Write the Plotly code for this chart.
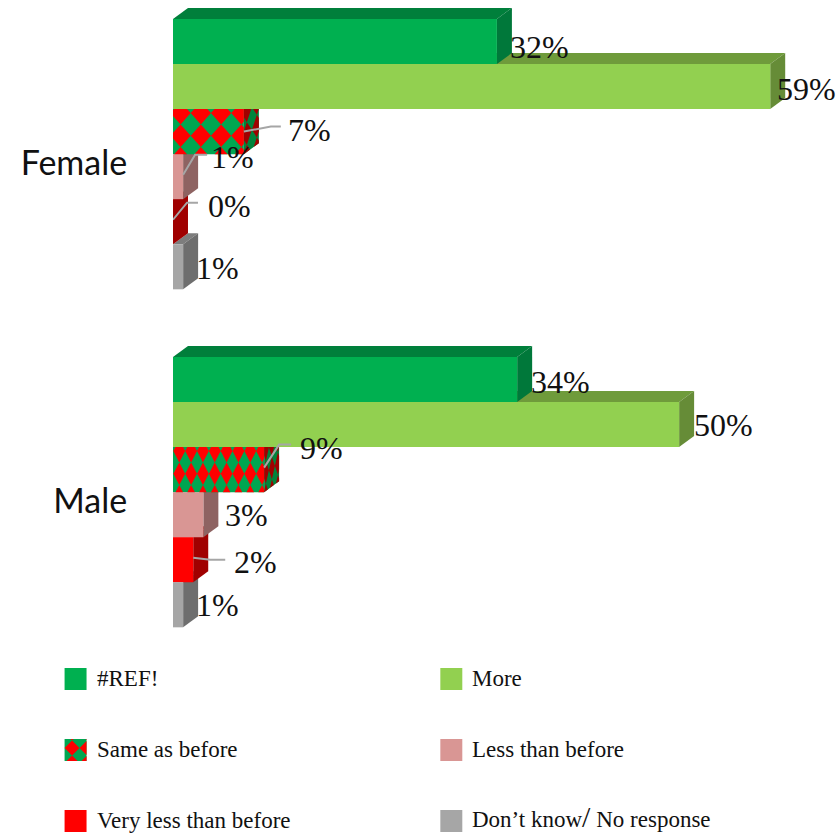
import plotly.graph_objects as go

# ---------- data ----------
categories = ["Female", "Male"]
series_names = ["#REF!", "More", "Same as before", "Less than before",
                "Very less than before", "Don’t know/ No response"]
ref_values = [32, 34]
more_values = [59, 50]
same_values = [7, 9]
less_values = [1, 3]
very_less_values = [0, 2]
no_response_values = [1, 1]
all_values = [ref_values, more_values, same_values, less_values, very_less_values, no_response_values]

# ---------- style ----------
W, H = 837, 833
LEFT, PLOT_H = 172.5, 660
PX_PER_PCT = 10.13
PX_PER_CAT = 338
Y_TOP = -0.456
Y_RANGE = [Y_TOP + PLOT_H / PX_PER_CAT, Y_TOP]
DEPTH_X, DEPTH_Y = 15 / PX_PER_PCT, 11 / PX_PER_CAT
front_colors = ["#00B050", "#92D050", "#00A651", "#D99694", "#FF0000", "#A6A6A6"]
top_colors = ["#007F3B", "#6F9B3B", "#00843C", "#956766", "#A00000", "#7D7D7D"]
side_colors = ["#00783A", "#668C37", "#00843C", "#8E6362", "#A00000", "#6E6E6E"]
RED, DARK_RED = "#FF0000", "#A00000"
pattern_columns = [3.5, 7.7]
pattern_phase = [0.375, 0.53]
side_columns = [1.5, 2.5]
SERIF = "Liberation Serif"
# label offsets (px) from the bar end / bar centre, per group then per series
label_offsets = [
    [(43, 6), (36, 2), (66, -2), (49, -20), (56, -16), (34, 1)],
    [(43, 3), (44, 0), (57, -22), (43, 0), (62, 2), (34, 0)],
]
# leader lines (px) relative to bar end / bar centre
leaders = {
    (0, 2): [(0, 0), (27, -5), (37, -5)],
    (0, 3): [(0, -2), (12, -22), (24, -22)],
    (0, 4): [(0, -2), (14, -19), (25, -19)],
    (1, 2): [(0, -2), (15, -25), (27, -25)],
    (1, 4): [(0, -2), (17, 0), (32, 0)],
}
legend_cols = [64, 440]
legend_rows = [668, 739, 810]


def bar_top(group, series):
    return group - 0.4 + series * 0.8 / 6


BAR_H = 0.8 / 6


def path(points):
    return "M " + " L ".join(f"{x:.4f} {y:.5f}" for x, y in points) + " Z "


def clip(poly):
    for axis, bound, sign in [(0, 0, 1), (0, 1, -1), (1, 0, 1), (1, 1, -1)]:
        out = []
        for i, p in enumerate(poly):
            q = poly[(i + 1) % len(poly)]
            dp, dq = sign * (p[axis] - bound), sign * (q[axis] - bound)
            if dp >= 0:
                out.append(p)
            if dp * dq < 0:
                t = dp / (dp - dq)
                out.append((p[0] + t * (q[0] - p[0]), p[1] + t * (q[1] - p[1])))
        poly = out
        if not poly:
            return []
    return poly


def diamonds(nu, nv, phase_u, phase_v, mapper):
    d = ""
    for j in range(-2, int(nv) + 3):
        for k in range(-2, int(nu) + 3):
            cu, cv = (k + phase_u) / nu, (j + phase_v) / nv
            hu, hv = 0.5 / nu, 0.5 / nv
            poly = clip([(cu, cv - hv), (cu + hu, cv), (cu, cv + hv), (cu - hu, cv)])
            if len(poly) > 2:
                d += path([mapper(u, v) for u, v in poly])
    return d


fig = go.Figure()
for s, name in enumerate(series_names):
    fig.add_trace(go.Bar(
        name=name, y=[0, 1], x=all_values[s], orientation="h",
        marker=dict(color=front_colors[s], line=dict(width=0)),
        showlegend=False, hoverinfo="skip",
    ))

shapes = []
annotations = []


def add_path(d, color, xref="x", yref="y", layer="below"):
    shapes.append(dict(type="path", path=d, fillcolor=color, line=dict(width=0),
                       xref=xref, yref=yref, layer=layer))


# depth faces, painted from the last series to the first
for g in range(2):
    for s in range(5, -1, -1):
        v = all_values[s][g]
        t = bar_top(g, s)
        b = t + BAR_H
        add_path(path([(0, t), (v, t), (v + DEPTH_X, t - DEPTH_Y), (DEPTH_X, t - DEPTH_Y)]), top_colors[s])
        add_path(path([(v, t), (v + DEPTH_X, t - DEPTH_Y), (v + DEPTH_X, b - DEPTH_Y), (v, b)]), side_colors[s])
        if s == 2:
            def side_map(u, w, v=v, t=t):
                return (v + u * DEPTH_X, t + w * BAR_H - u * DEPTH_Y)
            add_path(diamonds(side_columns[g], 2, 0.3, 0.18, side_map), DARK_RED)
            def front_map(u, w, v=v, t=t):
                return (u * v, t + w * BAR_H)
            add_path(diamonds(pattern_columns[g], 2, pattern_phase[g], 0.18, front_map), RED, layer="above")

# data labels and leader lines
for g in range(2):
    for s in range(6):
        v = all_values[s][g]
        c = bar_top(g, s) + BAR_H / 2
        dx, dy = label_offsets[g][s]
        annotations.append(dict(x=v, y=c, xref="x", yref="y", text=f"{v}%", showarrow=False,
                                xshift=dx, yshift=-dy, xanchor="center", yanchor="middle",
                                font=dict(family=SERIF, size=32, color="#111111")))
        if (g, s) in leaders:
            pts = [(v + px / PX_PER_PCT, c + py / PX_PER_CAT) for px, py in leaders[(g, s)]]
            shapes.append(dict(type="path", xref="x", yref="y", layer="above",
                               path="M " + " L ".join(f"{x:.4f} {y:.5f}" for x, y in pts),
                               line=dict(color="#A6A6A6", width=2)))


# legend
def paper(px, py):
    return ((px - LEFT) / (W - LEFT), 1 - py / PLOT_H)


SW = 22
for s, name in enumerate(series_names):
    px, py = legend_cols[s % 2], legend_rows[s // 2]
    corners = [paper(px, py), paper(px + SW, py), paper(px + SW, py + SW), paper(px, py + SW)]
    add_path(path(corners), front_colors[s], "paper", "paper", "above")
    if s == 2:
        def sw_map(u, w, px=px, py=py):
            return paper(px + u * SW, py + w * SW)
        add_path(diamonds(1.47, 1.47, 0.5, 0.6, sw_map), RED, "paper", "paper", "above")
    lx, ly = paper(px + 30, py + SW / 2)
    has_slash = "/" in name
    text = name.replace("/", '<span style="font-size:30px">/</span>')
    annotations.append(dict(x=lx, y=ly, xref="paper", yref="paper", text=text, showarrow=False,
                            xanchor="left", yanchor="middle", yshift=5 if has_slash else 1,
                            font=dict(family=SERIF, size=23, color="#111111")))

fig.update_layout(
    width=W, height=H, autosize=False,
    margin=dict(l=LEFT, r=0, t=0, b=H - PLOT_H, pad=0),
    paper_bgcolor="white", plot_bgcolor="white",
    barmode="group", bargap=0.2, bargroupgap=0,
    showlegend=False,
    shapes=shapes, annotations=annotations,
    xaxis=dict(range=[0, (W - LEFT) / PX_PER_PCT], visible=False, fixedrange=True),
    yaxis=dict(range=Y_RANGE, tickmode="array", tickvals=[0, 1], ticktext=categories,
               ticks="outside", ticklen=38, tickcolor="rgba(0,0,0,0)", showline=False,
               showgrid=False, zeroline=False, fixedrange=True, ticklabelshift=-9,
               tickfont=dict(family="Lato", size=34, color="#111111")),
)
fig.write_html("out.html", post_script="document.body.style.margin='0';", config=dict(displayModeBar=False))
